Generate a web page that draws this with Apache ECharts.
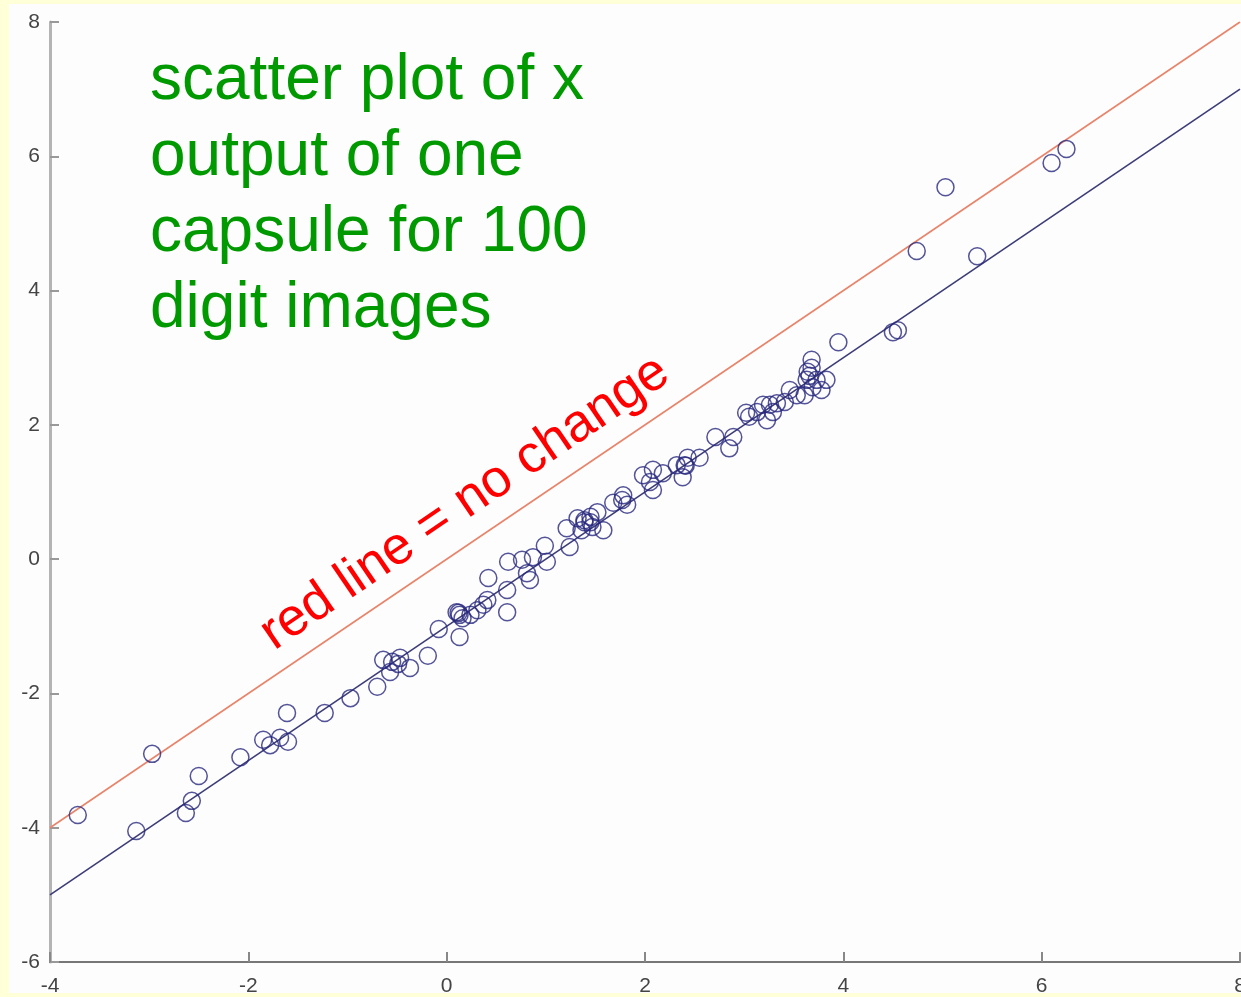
<!DOCTYPE html>
<html>
<head>
<meta charset="utf-8">
<script src="https://cdn.jsdelivr.net/npm/echarts@6/dist/echarts.min.js"></script>
<style>
  html, body { margin: 0; padding: 0; width: 1241px; height: 997px; background: #ffffd8; overflow: hidden; }
  #frame { position: absolute; left: 9px; top: 4px; width: 1232px; height: 989px; background: #fdfdfd; overflow: hidden; }
  #chart { width: 1232px; height: 989px; }
</style>
</head>
<body>
<div id="frame"><div id="chart"></div></div>
<script>
// Capsule x-output before (x) and after (y) transformation, 100 digit images
const xVals = [-3.72,-2.97,-3.13,-2.63,-2.57,-2.50,-2.08,-1.85,-1.78,-1.68,-1.60,-1.61,-1.23,-0.97,-0.70,-0.64,-0.55,-0.57,-0.47,-0.37,
  -0.19,-0.08,0.10,0.13,0.16,0.13,0.24,0.31,0.37,0.41,0.42,0.61,0.61,0.62,0.76,0.84,0.81,0.87,0.99,1.01,
  1.21,1.24,1.32,1.39,1.36,1.45,1.47,1.58,1.52,1.68,1.77,1.82,1.78,1.98,2.08,2.08,2.05,2.18,2.32,2.40,
  2.38,2.43,2.55,2.71,2.89,2.85,3.02,3.05,3.13,3.19,3.23,3.26,3.29,3.33,3.41,3.46,3.53,3.63,3.64,3.68,
  3.69,3.73,3.78,3.83,3.95,4.50,4.55,4.74,5.03,5.35,6.10,6.25,0.12,1.39,1.45,2.41,3.61,3.68,-0.49,3.66];
const yVals = [-3.81,-2.90,-4.05,-3.78,-3.60,-3.23,-2.95,-2.69,-2.77,-2.66,-2.72,-2.29,-2.29,-2.07,-1.90,-1.50,-1.53,-1.68,-1.47,-1.62,
  -1.44,-1.04,-0.79,-0.83,-0.88,-1.16,-0.83,-0.76,-0.68,-0.61,-0.28,-0.79,-0.46,-0.04,-0.01,-0.31,-0.21,0.03,0.20,-0.04,
  0.46,0.18,0.61,0.55,0.43,0.63,0.48,0.43,0.70,0.84,0.88,0.81,0.95,1.25,1.33,1.03,1.15,1.28,1.40,1.40,
  1.22,1.51,1.51,1.82,1.82,1.65,2.18,2.12,2.19,2.30,2.07,2.30,2.19,2.32,2.34,2.52,2.44,2.67,2.79,2.97,
  2.56,2.67,2.52,2.67,3.23,3.38,3.41,4.59,5.54,4.51,5.90,6.11,-0.80,0.58,0.55,1.39,2.44,2.85,-1.56,2.73];
// Reference lines (endpoints)
const noChangeX = [-4, 8];
const noChangeY = [-4, 8];
const fitX = [-4, 8];
const fitY = [-5, 7];
const xTicks = [-4, -2, 0, 2, 4, 6, 8];
const yTicks = [-6, -4, -2, 0, 2, 4, 6, 8];
const titleLines = ['scatter plot of x', 'output of one', 'capsule for 100', 'digit images'];
const redLabel = 'red line = no change';

const points = xVals.map((x, i) => [x, yVals[i]]);
const noChange = noChangeX.map((x, i) => [x, noChangeY[i]]);
const fit = fitX.map((x, i) => [x, fitY[i]]);

const chart = echarts.init(document.getElementById('chart'), null, { renderer: 'canvas' });
const labelStyle = { color: '#444', fontSize: 21, fontFamily: 'Liberation Sans, Arial, sans-serif' };
chart.setOption({
  animation: false,
  backgroundColor: 'transparent',
  grid: { left: 41, right: 1, top: 18, bottom: 31, containLabel: false, outerBoundsMode: 'none' },
  xAxis: {
    type: 'value', min: xTicks[0], max: xTicks[xTicks.length - 1], interval: 2,
    axisLine: { show: true, onZero: false, lineStyle: { color: '#777', width: 2 } },
    axisTick: { show: true, inside: true, length: 10, lineStyle: { color: '#888', width: 2 } },
    axisLabel: Object.assign({ margin: 14, showMaxLabel: true, showMinLabel: true }, labelStyle),
    splitLine: { show: false }
  },
  yAxis: {
    type: 'value', min: yTicks[0], max: yTicks[yTicks.length - 1], interval: 2,
    axisLine: { show: true, onZero: false, lineStyle: { color: '#b4b4b4', width: 3 } },
    axisTick: { show: true, inside: true, length: 9, lineStyle: { color: '#999', width: 2 } },
    axisLabel: Object.assign({ margin: 10 }, labelStyle),
    splitLine: { show: false }
  },
  series: [
    {
      type: 'line', data: noChange, showSymbol: false, silent: true,
      lineStyle: { color: '#e8846a', width: 1.6 }, z: 2
    },
    {
      type: 'line', data: fit, showSymbol: false, silent: true,
      lineStyle: { color: '#3c3c78', width: 1.6 }, z: 2
    },
    {
      type: 'scatter', data: points, symbol: 'circle', symbolSize: 17,
      itemStyle: { color: 'rgba(0,0,0,0)', borderColor: '#28287e', borderWidth: 1.5 }, z: 3
    }
  ],
  graphic: [
    {
      type: 'text', x: 141, y: 39, z: 10,
      style: {
        text: titleLines.join('\n'), fill: '#009900',
        font: '64px "Liberation Sans", Arial, sans-serif', lineHeight: 76,
        textAlign: 'left', textVerticalAlign: 'top'
      }
    },
    {
      type: 'text', x: 456, y: 499, rotation: 34.3 * Math.PI / 180, z: 10,
      style: {
        text: redLabel, fill: '#ff0000',
        font: '53px "Liberation Sans", Arial, sans-serif',
        textAlign: 'center', textVerticalAlign: 'middle'
      }
    }
  ]
});
</script>
</body>
</html>
